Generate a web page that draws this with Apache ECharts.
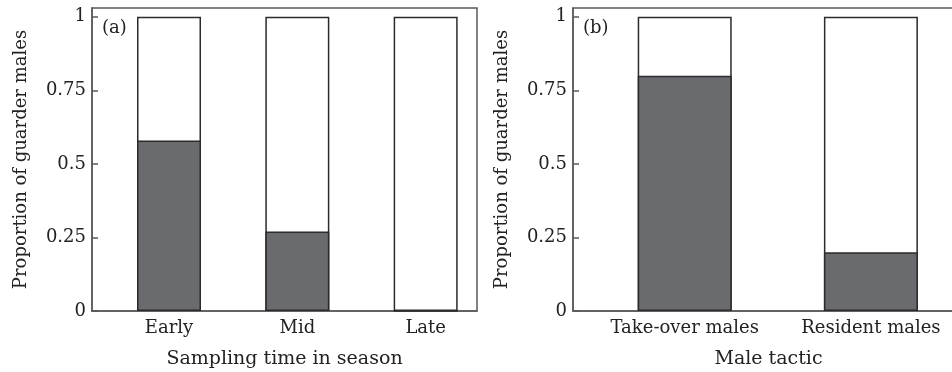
<!DOCTYPE html>
<html>
<head>
<meta charset="utf-8">
<script src="https://cdn.jsdelivr.net/npm/echarts@6/dist/echarts.min.js"></script>
<style>
  html, body { margin: 0; padding: 0; background: #fff; }
  #chart { width: 952px; height: 372px; }
</style>
</head>
<body>
<div id="chart"></div>
<script>
// panel (a): season
const seasonCats = ['Early', 'Mid', 'Late']
const seasonGuarder = [0.58, 0.27, 0]
const seasonTotal = [1, 1, 1]
// panel (b): male tactic
const tacticCats = ['Take-over males', 'Resident males']
const tacticGuarder = [0.8, 0.2]
const tacticTotal = [1, 1]
const yTicks = [0, 0.25, 0.5, 0.75, 1]

const font = 'DejaVu Serif'
const dark = '#6a6b6f'
const edge = '#2b2b2b'
const axisGrey = '#5a5a5a'

function yAxisFor(idx) {
  return {
    gridIndex: idx,
    type: 'value',
    min: 0,
    max: 1.03,
    name: 'Proportion of guarder males',
    nameLocation: 'middle',
    nameGap: 62,
    nameTextStyle: { fontFamily: font, fontSize: 18, color: '#222' },
    axisLine: { show: true, lineStyle: { color: axisGrey, width: 1.5 } },
    axisTick: { show: true, inside: true, length: 6, customValues: yTicks, lineStyle: { color: axisGrey, width: 1.5 } },
    axisLabel: {
      customValues: yTicks,
      margin: 6,
      fontFamily: font,
      fontSize: 18,
      color: '#222',
      formatter: function(v) { return String(v) }
    },
    splitLine: { show: false }
  }
}

function xAxisFor(idx, cats, max, title) {
  return {
    gridIndex: idx,
    type: 'value',
    min: 0.4,
    max: max,
    name: title,
    nameLocation: 'middle',
    nameGap: 39,
    nameTextStyle: { fontFamily: font, fontSize: 19, color: '#222' },
    axisLine: { show: true, lineStyle: { color: axisGrey, width: 1.5 } },
    axisTick: { show: false },
    axisLabel: {
      customValues: cats.map(function(c, i) { return i + 1 }),
      margin: 8,
      fontFamily: font,
      fontSize: 18,
      color: '#222',
      formatter: function(v) { return cats[Math.round(v) - 1] || '' }
    },
    splitLine: { show: false }
  }
}

// white full-height bar behind, dark guarder share drawn over it
function barPair(idx, totals, values, width) {
  const common = {
    type: 'bar',
    xAxisIndex: idx,
    yAxisIndex: idx,
    barWidth: width,
    barGap: '-100%',
    silent: true
  }
  return [
    Object.assign({}, common, {
      data: totals.map(function(v, i) { return [i + 1, v] }),
      itemStyle: { color: '#fff', borderColor: edge, borderWidth: 1.5 }
    }),
    Object.assign({}, common, {
      data: values.map(function(v, i) { return [i + 1, v] }),
      itemStyle: { color: dark, borderColor: edge, borderWidth: 1.5 }
    })
  ]
}

const chart = echarts.init(document.getElementById('chart'))
chart.setOption({
  backgroundColor: '#fff',
  animation: false,
  textStyle: { fontFamily: font },
  grid: [
    { left: 92, top: 8, width: 385, height: 303, show: true, borderColor: axisGrey, borderWidth: 1.5, outerBoundsMode: 'none' },
    { left: 573, top: 8, width: 391, height: 303, show: true, borderColor: axisGrey, borderWidth: 1.5, outerBoundsMode: 'none' }
  ],
  xAxis: [
    xAxisFor(0, seasonCats, 3.4, 'Sampling time in season'),
    xAxisFor(1, tacticCats, 2.5, 'Male tactic')
  ],
  yAxis: [yAxisFor(0), yAxisFor(1)],
  series: barPair(0, seasonTotal, seasonGuarder, 64).concat(barPair(1, tacticTotal, tacticGuarder, 94)),
  graphic: [
    { type: 'text', left: 102, top: 19, style: { text: '(a)', fontFamily: font, fontSize: 18, fill: '#222' } },
    { type: 'text', left: 583, top: 19, style: { text: '(b)', fontFamily: font, fontSize: 18, fill: '#222' } }
  ]
})
</script>
</body>
</html>
